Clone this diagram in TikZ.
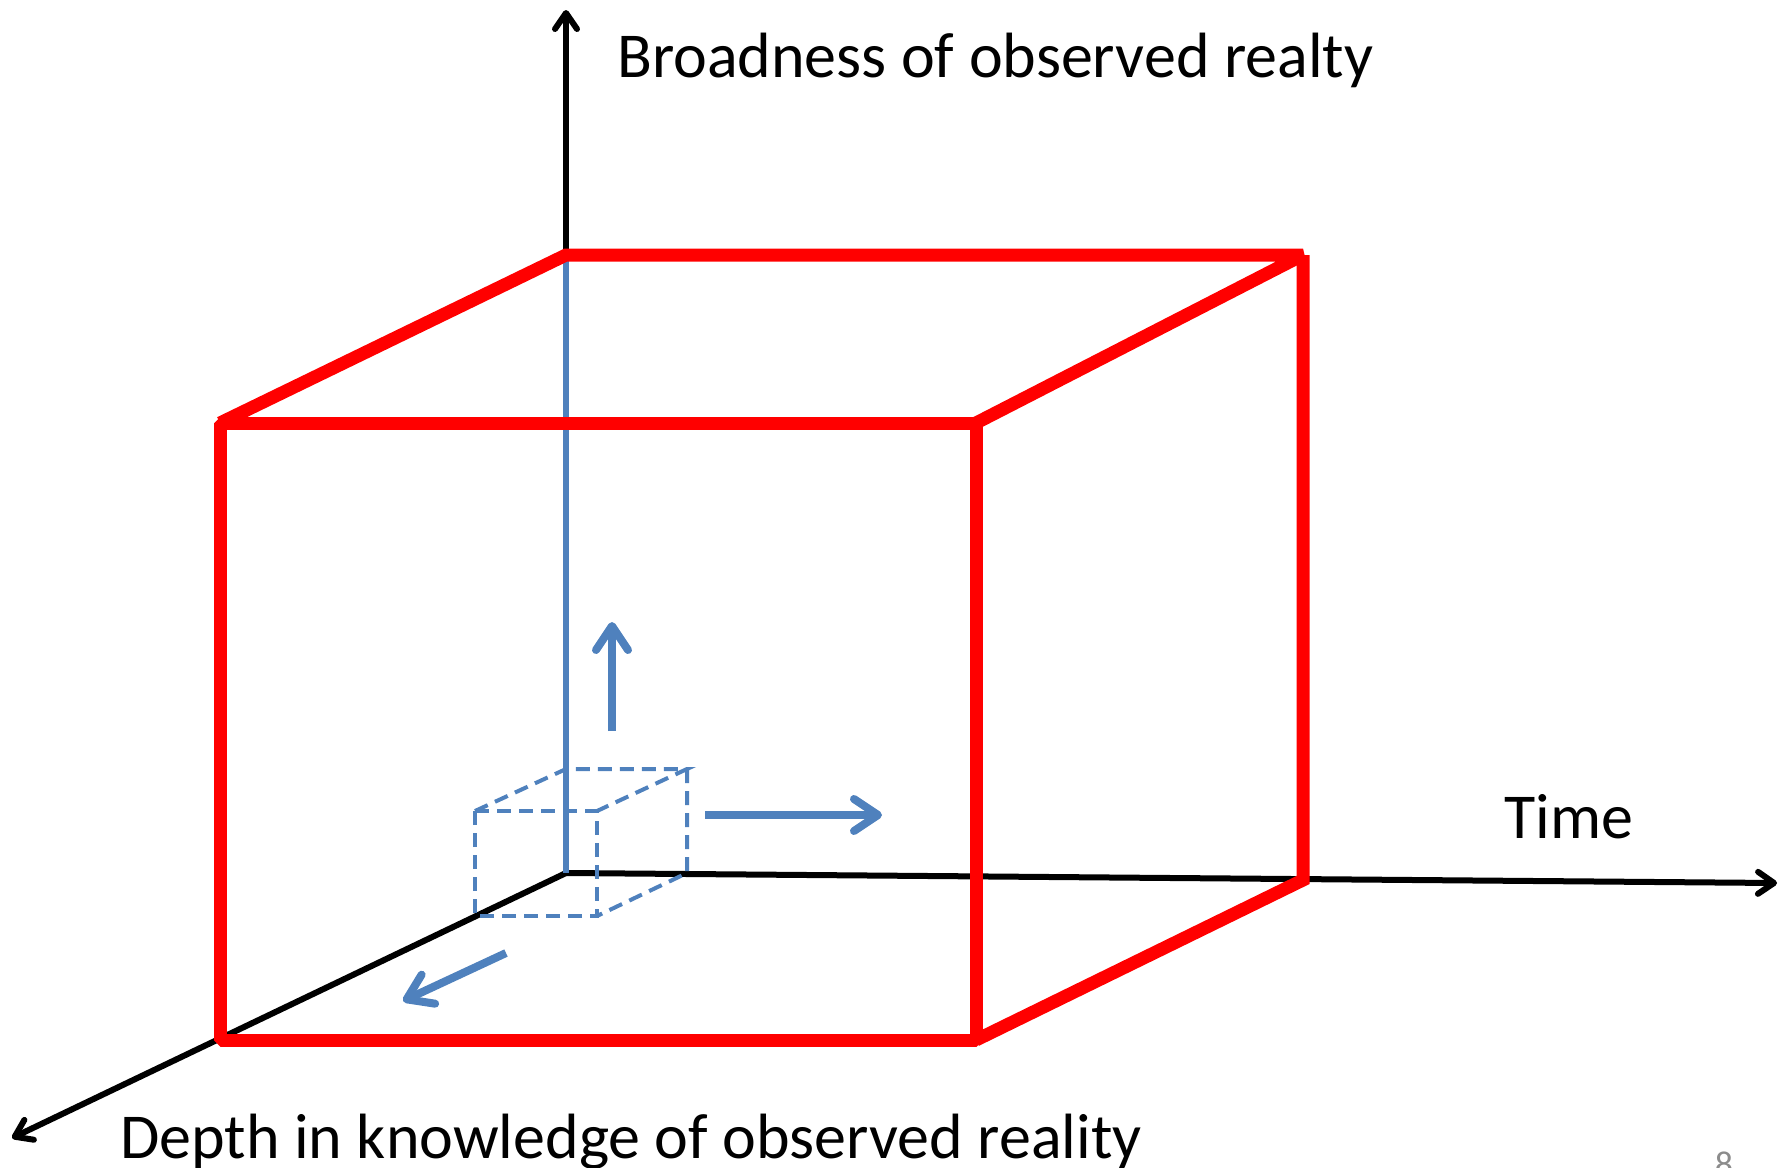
\documentclass[tikz,border=0pt]{standalone}
\usepackage{fontspec}
\setmainfont{Carlito}
\usetikzlibrary{arrows.meta}
\definecolor{cubered}{HTML}{FF0000}
\definecolor{obsblue}{HTML}{4F81BD}
\definecolor{pagegray}{HTML}{8C8C8C}
\begin{document}
\begin{tikzpicture}[x=1pt,y=-1pt,
  axis/.style={line width=6pt, black, -{Straight Barb[length=16pt,width=22pt,round]}},
  cubeedge/.style={line width=13pt, cubered, miter limit=1.2},
  smallcube/.style={line width=4pt, obsblue, dash pattern=on 14pt off 8pt},
  growarrow/.style={line width=8pt, obsblue, -{Straight Barb[length=24pt,width=32pt,round]}},
  axislabel/.style={font=\fontsize{64}{76}\selectfont, inner sep=0pt, anchor=base west},
  pagenum/.style={font=\fontsize{36}{40}\selectfont, inner sep=0pt, anchor=base, text=pagegray}]
\useasboundingbox (0,0) rectangle (1787,1167);
% axes coordinates
\coordinate (O) at (566,873);
\coordinate (Ytop) at (566,10);
\coordinate (Xend) at (1777,883);
\coordinate (Zend) at (12,1138);
% big cube
\coordinate (F1) at (220,423);
\coordinate (F2) at (976,423);
\coordinate (F3) at (976,1040);
\coordinate (F4) at (220,1040);
\coordinate (B1) at (566,255);
\coordinate (B2) at (1303,255);
\coordinate (B3) at (1303,880);
% small cube
\coordinate (f1) at (475,811);
\coordinate (f2) at (597,811);
\coordinate (f3) at (597,916);
\coordinate (f4) at (475,916);
\coordinate (b1) at (566,769);
\coordinate (b2) at (687,769);
\coordinate (b3) at (687,873);
% growth arrows
\coordinate (upS) at (612,731);
\coordinate (upE) at (612,622);
\coordinate (rtS) at (705,815);
\coordinate (rtE) at (882,815);
\coordinate (dlS) at (506,953);
\coordinate (dlE) at (403,1001);

% axes
\draw[axis] (O) -- (Ytop);
\draw[axis] (O) -- (Xend);
\draw[axis] (O) -- (Zend);
\draw[line width=6pt, obsblue] (B1) -- (O);

% small dashed cube
\draw[smallcube] (f1) -- (f2) -- (f3) -- (f4) -- cycle;
\draw[smallcube] (f1) -- (b1) -- (b2) -- (f2);
\draw[smallcube] (b2) -- (b3) -- (f3);

% growth arrows
\draw[growarrow] (upS) -- (upE);
\draw[growarrow] (rtS) -- (rtE);
\draw[growarrow] (dlS) -- (dlE);

% big red cube
\draw[cubeedge] (F1) -- (F2) -- (F3) -- (F4) -- cycle;
\draw[cubeedge] (F1) -- (B1) -- (B2) -- (F2);
\draw[cubeedge] (B2) -- (B3) -- (F3);

% labels
\node[axislabel] (ylab) at (617,77) {Broadness of observed realty};
\node[axislabel] (xlab) at (1504,838) {Time};
\node[axislabel] (zlab) at (120,1158) {Depth in knowledge of observed reality};
\node[pagenum] (pg) at (1724,1176) {8};
\end{tikzpicture}
\end{document}
